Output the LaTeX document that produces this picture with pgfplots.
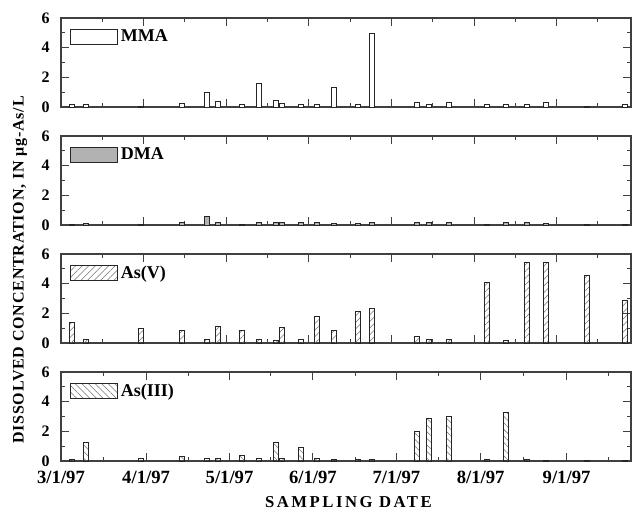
\documentclass[border=0pt]{standalone}
\usepackage{fontspec}
\setmainfont{Liberation Serif}
\newfontfamily\spacedx[LetterSpace=15]{Liberation Serif}
\newfontfamily\spacedy[LetterSpace=5]{Liberation Serif}
\usepackage{pgfplots}
\pgfplotsset{compat=1.18}
\usetikzlibrary{patterns,patterns.meta,calc}

\pgfplotsset{
 panel/.style={
  width=427.5pt, height=66.75pt, scale only axis,
  xmin=0, xmax=6.9, ymin=0, ymax=6,
  ytick={0,2,4,6}, minor ytick={1,3,5},
  xtick={0,1,2,3,4,5,6}, minor xtick={0.5,1.5,2.5,3.5,4.5,5.5,6.5},
  tick align=inside, xtick pos=both, ytick pos=both, yticklabel pos=left,
  major tick length=6pt, minor tick length=3pt,
  axis line style={black!75, line width=1.1pt},
  every tick/.style={black!75, line width=0.8pt},
  xticklabels={},
  /pgf/number format/assume math mode=true,
  yticklabel style={font=\bfseries\fontsize{12}{12}\selectfont, xshift=-5pt},
  xticklabel style={font=\bfseries\fontsize{14}{14}\selectfont, yshift=-4pt},
  legend style={at={(axis description cs:0,1)}, anchor=north west, xshift=6.75pt, yshift=-6.5pt,
    draw=none, fill=none, inner sep=0pt, font=\bfseries\fontsize{13.5}{13.5}\selectfont,
    legend cell align=left},
  clip=false,
 },
 barst/.style={ybar, bar width=0.066, draw=black!85, line width=0.7pt},
 legbox/.style={legend image code/.code={\draw[##1] (0pt,-5.6pt) rectangle (35.25pt,5.6pt);}},
}

\begin{document}
\begin{tikzpicture}
% MMA
\begin{axis}[panel, name=p1, at={(0pt,0pt)}, anchor=north west]
\addplot[barst, fill=white, legbox]
coordinates {(0.133,0.2) (0.303,0.15) (0.969,0.05) (1.465,0.25) (1.768,0.95) (1.901,0.4) (2.191,0.15) (2.397,1.6) (2.605,0.45) (2.675,0.25) (2.902,0.2) (3.099,0.2) (3.305,1.35) (3.596,0.2) (3.765,4.95) (4.310,0.3) (4.455,0.2) (4.697,0.3) (5.157,0.15) (5.387,0.2) (5.642,0.2) (5.872,0.3) (6.368,0.05) (6.828,0.2)};
\addlegendentry{MMA}
\end{axis}
% DMA
\begin{axis}[panel, name=p2, at={(0pt,-88.5pt)}, anchor=north west]
\addplot[barst, fill=black!30, legbox]
coordinates {(0.133,0.03) (0.303,0.1) (0.969,0.03) (1.465,0.15) (1.768,0.6) (1.901,0.15) (2.191,0.05) (2.397,0.15) (2.605,0.15) (2.675,0.15) (2.902,0.15) (3.099,0.15) (3.305,0.1) (3.596,0.1) (3.765,0.15) (4.310,0.15) (4.455,0.15) (4.697,0.2) (5.157,0.05) (5.387,0.15) (5.642,0.15) (5.872,0.1) (6.368,0.05) (6.828,0.05)};
\addlegendentry{DMA}
\end{axis}
% As(V)
\begin{axis}[panel, name=p3, at={(0pt,-177pt)}, anchor=north west]
\addplot[barst, pattern={Lines[angle=45,distance=3.5pt,line width=0.4pt]}, pattern color=black!55, legbox]
coordinates {(0.133,1.38) (0.303,0.25) (0.969,1.0) (1.465,0.85) (1.768,0.25) (1.901,1.1) (2.191,0.85) (2.397,0.25) (2.605,0.2) (2.675,1.05) (2.902,0.25) (3.099,1.8) (3.305,0.85) (3.596,2.15) (3.765,2.3) (4.310,0.45) (4.455,0.25) (4.697,0.25) (5.157,4.1) (5.387,0.15) (5.642,5.45) (5.872,5.45) (6.368,4.55) (6.828,2.85)};
\addlegendentry{As(V)}
\end{axis}
% As(III)
\begin{axis}[panel, name=p4, at={(0pt,-265.5pt)}, anchor=north west,
  xtick={0,1.03,2.04,3.05,4.06,5.08,6.12},
  minor xtick={0.51,1.54,2.54,3.56,4.57,5.60,6.63},
  xticklabels={3/1/97,4/1/97,5/1/97,6/1/97,7/1/97,8/1/97,9/1/97}]
\addplot[barst, pattern={Lines[angle=-45,distance=3.5pt,line width=0.4pt]}, pattern color=black!55, legbox]
coordinates {(0.133,0.1) (0.303,1.28) (0.969,0.15) (1.465,0.3) (1.768,0.15) (1.901,0.15) (2.191,0.35) (2.397,0.2) (2.605,1.28) (2.675,0.15) (2.902,0.88) (3.099,0.15) (3.305,0.1) (3.596,0.1) (3.765,0.1) (4.310,2.0) (4.455,2.85) (4.697,3.03) (5.157,0.1) (5.387,3.26) (5.642,0.1) (5.872,0.05) (6.368,0.05) (6.828,0.05)};
\addlegendentry{As(III)}
\end{axis}
\node[rotate=90, font=\spacedy\bfseries\fontsize{12}{12}\selectfont] at ($(p1.north west)+(-30.75pt,-189pt)$) {DISSOLVED CONCENTRATION, IN μg-As/L};
\node[font=\spacedx\bfseries\fontsize{12.5}{12.5}\selectfont] at ($(p4.south west)+(215.6pt,-30.75pt)$) {SAMPLING DATE};
\pgfresetboundingbox
\path[use as bounding box] ($(p4.south west)+(-45.75pt,-39pt)$) rectangle ($(p1.north east)+(0.75pt,13.5pt)$);
\end{tikzpicture}
\end{document}
